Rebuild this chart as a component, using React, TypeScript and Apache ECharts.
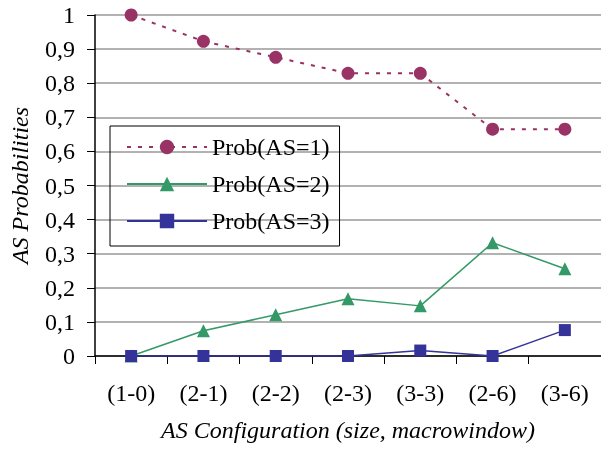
import React, { useEffect, useRef } from "react";
import * as echarts from "echarts";

const categories = ["(1-0)", "(2-1)", "(2-2)", "(2-3)", "(3-3)", "(2-6)", "(3-6)"];
const seriesNames = ["Prob(AS=1)", "Prob(AS=2)", "Prob(AS=3)"];
const prob1 = [1, 0.923, 0.876, 0.829, 0.829, 0.665, 0.665];
const prob2 = [0, 0.074, 0.121, 0.168, 0.147, 0.332, 0.256];
const prob3 = [0, 0, 0, 0, 0.016, 0, 0.076];
const yTickLabels = ["0", "0,1", "0,2", "0,3", "0,4", "0,5", "0,6", "0,7", "0,8", "0,9", "1"];

const FONT = "Liberation Serif";

export default function App() {
  const ref = useRef<HTMLDivElement>(null);
  useEffect(() => {
    if (!ref.current) return;
    const chart = echarts.init(ref.current, undefined, { renderer: "svg" });
    chart.setOption({
      animation: false,
      grid: { left: 95, right: 0, top: 15, bottom: 94 },
      legend: {
        orient: "vertical",
        left: 110,
        top: 126,
        data: seriesNames,
        itemWidth: 80,
        itemHeight: 18,
        itemGap: 13,
        padding: [9, 10, 13, 16],
        borderColor: "#000",
        borderWidth: 1,
        textStyle: { fontFamily: FONT, fontSize: 24, color: "#000" },
      },
      xAxis: {
        type: "category",
        data: categories,
        boundaryGap: true,
        axisLine: { lineStyle: { color: "#000", width: 1.5 } },
        axisTick: { show: true, length: 8, lineStyle: { color: "#000", width: 1 } },
        axisLabel: { fontFamily: FONT, fontSize: 24, color: "#000", margin: 25 },
        name: "AS Configuration (size, macrowindow)",
        nameLocation: "middle",
        nameGap: 62,
        nameTextStyle: { fontFamily: FONT, fontSize: 24, fontStyle: "italic", color: "#000" },
      },
      yAxis: {
        type: "value",
        min: 0,
        max: 1,
        interval: 0.1,
        axisLine: { show: true, lineStyle: { color: "#000", width: 1.5 } },
        axisTick: { show: true, length: 8, lineStyle: { color: "#000", width: 1 } },
        axisLabel: {
          fontFamily: FONT,
          fontSize: 24,
          color: "#000",
          margin: 20,
          formatter: (v: number) => yTickLabels[Math.round(v * 10)],
        },
        splitLine: { lineStyle: { color: "#999", width: 1.5 } },
        name: "AS Probabilities",
        nameLocation: "middle",
        nameGap: 63,
        nameTextStyle: { fontFamily: FONT, fontSize: 24, fontStyle: "italic", color: "#000" },
      },
      series: [
        {
          name: seriesNames[0],
          type: "line",
          data: prob1,
          symbol: "circle",
          symbolSize: 13,
          itemStyle: { color: "#993366" },
          lineStyle: { color: "#993366", width: 2, type: [4, 7] },
          z: 3,
        },
        {
          name: seriesNames[1],
          type: "line",
          data: prob2,
          symbol: "triangle",
          symbolSize: 13,
          itemStyle: { color: "#339966" },
          lineStyle: { color: "#339966", width: 1.5 },
          z: 2,
        },
        {
          name: seriesNames[2],
          type: "line",
          data: prob3,
          symbol: "rect",
          symbolSize: 12,
          itemStyle: { color: "#333399" },
          lineStyle: { color: "#333399", width: 1.5 },
          z: 4,
        },
      ],
    });
    return () => chart.dispose();
  }, []);
  return <div ref={ref} style={{ width: 601, height: 450, position: "fixed", left: 0, top: 0 }} />;
}
